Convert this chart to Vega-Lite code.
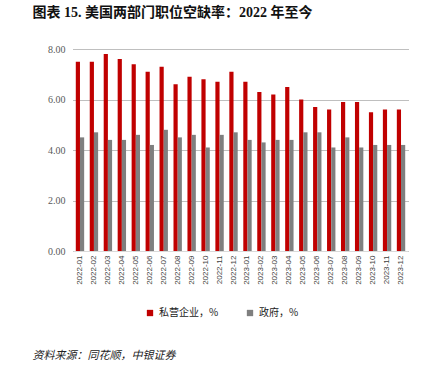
{
  "$schema": "https://vega.github.io/schema/vega-lite/v6.json",
  "background": "white",
  "padding": {"left": 32, "top": 6, "right": 5, "bottom": 5},
  "config": {
    "view": {"stroke": null},
    "concat": {"spacing": 0}
  },
  "title": {
    "text": "资料来源：同花顺，中银证券",
    "orient": "bottom",
    "anchor": "start",
    "frame": "bounds",
    "font": "Noto Sans CJK SC",
    "fontStyle": "italic",
    "fontWeight": "normal",
    "fontSize": 11,
    "color": "#222222",
    "offset": 32,
    "dx": 0
  },
  "vconcat": [
    {
      "title": {
        "text": "图表 15. 美国两部门职位空缺率：2022 年至今",
        "anchor": "start",
        "frame": "bounds",
        "font": "Liberation Serif, Noto Sans CJK SC",
        "fontWeight": "bold",
        "fontSize": 14,
        "color": "#111111",
        "offset": 24,
        "dx": -15
      },
      "width": 335,
      "height": 202,
      "data": {
        "values": [
          {"month": "2022-01", "series": "私营企业，%", "value": 7.5},
          {"month": "2022-02", "series": "私营企业，%", "value": 7.5},
          {"month": "2022-03", "series": "私营企业，%", "value": 7.8},
          {"month": "2022-04", "series": "私营企业，%", "value": 7.6},
          {"month": "2022-05", "series": "私营企业，%", "value": 7.4},
          {"month": "2022-06", "series": "私营企业，%", "value": 7.1},
          {"month": "2022-07", "series": "私营企业，%", "value": 7.3},
          {"month": "2022-08", "series": "私营企业，%", "value": 6.6},
          {"month": "2022-09", "series": "私营企业，%", "value": 6.9},
          {"month": "2022-10", "series": "私营企业，%", "value": 6.8},
          {"month": "2022-11", "series": "私营企业，%", "value": 6.7},
          {"month": "2022-12", "series": "私营企业，%", "value": 7.1},
          {"month": "2023-01", "series": "私营企业，%", "value": 6.7},
          {"month": "2023-02", "series": "私营企业，%", "value": 6.3},
          {"month": "2023-03", "series": "私营企业，%", "value": 6.2},
          {"month": "2023-04", "series": "私营企业，%", "value": 6.5},
          {"month": "2023-05", "series": "私营企业，%", "value": 6.0},
          {"month": "2023-06", "series": "私营企业，%", "value": 5.7},
          {"month": "2023-07", "series": "私营企业，%", "value": 5.6},
          {"month": "2023-08", "series": "私营企业，%", "value": 5.9},
          {"month": "2023-09", "series": "私营企业，%", "value": 5.9},
          {"month": "2023-10", "series": "私营企业，%", "value": 5.5},
          {"month": "2023-11", "series": "私营企业，%", "value": 5.6},
          {"month": "2023-12", "series": "私营企业，%", "value": 5.6},
          {"month": "2022-01", "series": "政府，%", "value": 4.5},
          {"month": "2022-02", "series": "政府，%", "value": 4.7},
          {"month": "2022-03", "series": "政府，%", "value": 4.4},
          {"month": "2022-04", "series": "政府，%", "value": 4.4},
          {"month": "2022-05", "series": "政府，%", "value": 4.6},
          {"month": "2022-06", "series": "政府，%", "value": 4.2},
          {"month": "2022-07", "series": "政府，%", "value": 4.8},
          {"month": "2022-08", "series": "政府，%", "value": 4.5},
          {"month": "2022-09", "series": "政府，%", "value": 4.6},
          {"month": "2022-10", "series": "政府，%", "value": 4.1},
          {"month": "2022-11", "series": "政府，%", "value": 4.6},
          {"month": "2022-12", "series": "政府，%", "value": 4.7},
          {"month": "2023-01", "series": "政府，%", "value": 4.4},
          {"month": "2023-02", "series": "政府，%", "value": 4.3},
          {"month": "2023-03", "series": "政府，%", "value": 4.4},
          {"month": "2023-04", "series": "政府，%", "value": 4.4},
          {"month": "2023-05", "series": "政府，%", "value": 4.7},
          {"month": "2023-06", "series": "政府，%", "value": 4.7},
          {"month": "2023-07", "series": "政府，%", "value": 4.1},
          {"month": "2023-08", "series": "政府，%", "value": 4.5},
          {"month": "2023-09", "series": "政府，%", "value": 4.1},
          {"month": "2023-10", "series": "政府，%", "value": 4.2},
          {"month": "2023-11", "series": "政府，%", "value": 4.2},
          {"month": "2023-12", "series": "政府，%", "value": 4.2}
        ]
      },
      "mark": {"type": "bar"},
      "encoding": {
        "x": {
          "field": "month",
          "type": "nominal",
          "title": null,
          "scale": {"paddingInner": 0.4, "paddingOuter": 0.2},
          "axis": {
            "labelAngle": -90,
            "labelFont": "Liberation Sans",
            "labelFontSize": 8,
            "labelColor": "#404040",
            "labelPadding": 4,
            "ticks": false,
            "domainColor": "#d9d9d9",
            "domainWidth": 1
          }
        },
        "xOffset": {
          "field": "series",
          "type": "nominal",
          "scale": {"domain": ["私营企业，%", "政府，%"]}
        },
        "y": {
          "field": "value",
          "type": "quantitative",
          "title": null,
          "scale": {"domain": [0, 8]},
          "axis": {
            "values": [0, 2, 4, 6, 8],
            "format": ".2f",
            "labelFont": "Liberation Serif",
            "labelFontSize": 10,
            "labelColor": "#595959",
            "labelPadding": 8,
            "domain": false,
            "ticks": false,
            "grid": true,
            "gridColor": "#7f7f7f",
            "gridDash": [1, 1],
            "gridWidth": 1
          }
        },
        "color": {
          "field": "series",
          "type": "nominal",
          "scale": {"domain": ["私营企业，%", "政府，%"], "range": ["#C00000", "#7F7F7F"]},
          "legend": {
            "title": null,
            "orient": "none",
            "legendX": 72,
            "legendY": 259,
            "direction": "horizontal",
            "symbolType": "square",
            "symbolSize": 40,
            "symbolStrokeWidth": 0,
            "labelFont": "Noto Sans CJK SC",
            "labelFontSize": 10,
            "labelColor": "#222222",
            "columnPadding": 26
          }
        }
      }
    }
  ]
}
